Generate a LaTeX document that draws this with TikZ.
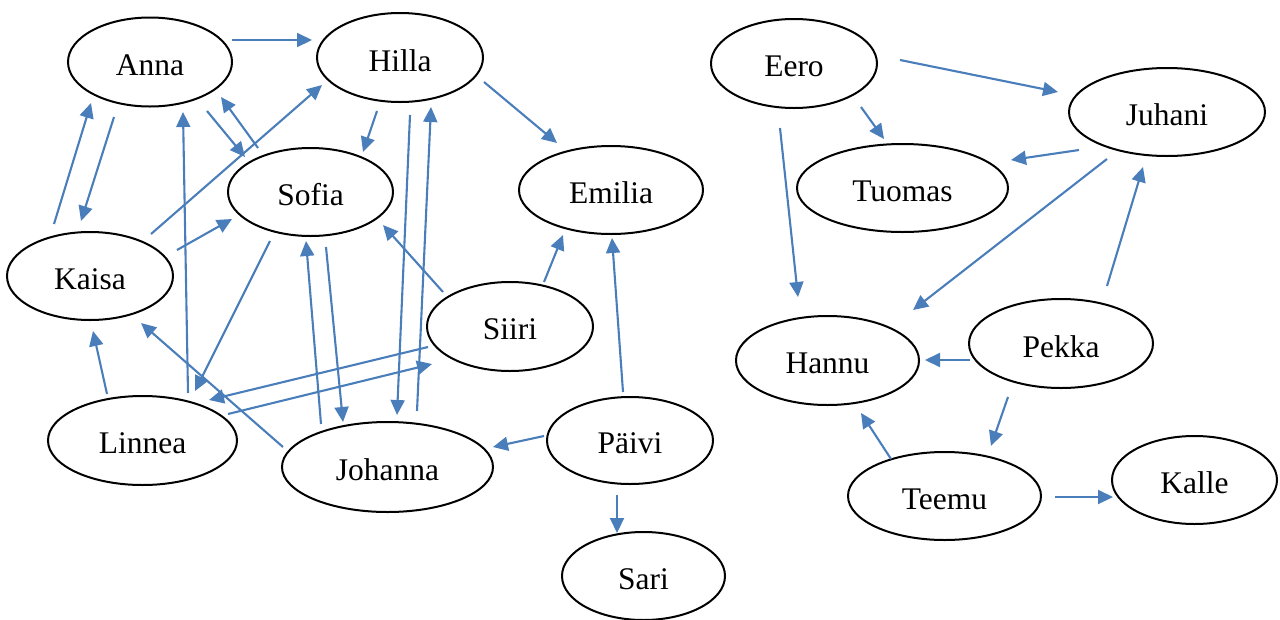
\documentclass[tikz,border=0pt]{standalone}
\usepackage{fontspec}
\setmainfont{Liberation Serif}
\usetikzlibrary{arrows.meta,shapes.geometric}
\definecolor{linkblue}{RGB}{74,126,187}
\tikzset{
  person/.style={ellipse, draw=black, line width=2pt, inner sep=0pt,
    font=\fontsize{31.5}{36}\selectfont},
  link/.style={draw=linkblue, line width=2.1pt,
    -{Triangle[length=15pt,width=14pt]}}
}
% \pnode{name}{x,y}{label}{width}{height}
\newcommand\pnode[5]{\node[person, minimum width=#4pt, minimum height=#5pt] (#1) at (#2) {\raisebox{-3pt}[\height][\depth]{#3}};}
% \lnk{from}{dx,dy}{to}{dx,dy}: arrow between points placed relative to two nodes
\newcommand\lnk[4]{\draw[link] ([shift={(#2)}]#1.center) -- ([shift={(#4)}]#3.center);}
\begin{document}
\begin{tikzpicture}[x=1pt,y=-1pt]
\useasboundingbox (0,0) rectangle (1280,619);

% left group
\pnode{anna}{150,62}{Anna}{164}{89}
\pnode{hilla}{400,57.5}{Hilla}{166}{89}
\pnode{sofia}{310.5,192}{Sofia}{165}{88}
\pnode{kaisa}{90,276}{Kaisa}{166}{88}
\pnode{linnea}{142.5,440.5}{Linnea}{189}{89}
\pnode{johanna}{387.5,467}{Johanna}{211}{90}
\pnode{emilia}{611,190}{Emilia}{184}{88}
\pnode{siiri}{510,326.5}{Siiri}{166}{89}
\pnode{paivi}{630,440.5}{Päivi}{166}{87}
\pnode{sari}{643.5,576}{Sari}{163}{88}

% right group
\pnode{eero}{794,63.5}{Eero}{166}{89}
\pnode{tuomas}{902.5,188}{Tuomas}{211}{88}
\pnode{juhani}{1167,112}{Juhani}{196}{88}
\pnode{hannu}{827.5,360.5}{Hannu}{183}{89}
\pnode{pekka}{1061,343.5}{Pekka}{184}{89}
\pnode{teemu}{944.5,496}{Teemu}{193}{88}
\pnode{kalle}{1194.5,480}{Kalle}{165}{88}

% connections of the left group
\lnk{anna}{82,-22}{hilla}{-88,-17.5}
\lnk{kaisa}{-36,-52}{anna}{-59,41}
\lnk{anna}{-36,55}{kaisa}{-9,-55}
\lnk{linnea}{45.5,-47.5}{anna}{33,50}
\lnk{anna}{57,49}{sofia}{-65.5,-35}
\lnk{sofia}{-52.5,-44}{anna}{71,35}
\lnk{kaisa}{61,-42}{hilla}{-78,27.5}
\lnk{hilla}{-23,53.5}{sofia}{52.5,-40}
\lnk{hilla}{10,57.5}{johanna}{9.5,-52}
\lnk{johanna}{29.5,-56}{hilla}{31,49.5}
\lnk{hilla}{84,24.5}{emilia}{-54,-47}
\lnk{kaisa}{87,-26}{sofia}{-78.5,27}
\lnk{sofia}{-40.5,49}{linnea}{52.5,-49.5}
\lnk{johanna}{-66.5,-43}{sofia}{-4.5,49}
\lnk{sofia}{15.5,55}{johanna}{-44.5,-45}
\lnk{siiri}{-67,-34.5}{sofia}{72.5,33}
\lnk{siiri}{-82,20.5}{linnea}{66.5,-40.5}
\lnk{linnea}{85.5,-26.5}{siiri}{-78,37.5}
\lnk{linnea}{-35.5,-46.5}{kaisa}{3,55}
\lnk{johanna}{-104.5,-20}{kaisa}{51,47}
\lnk{siiri}{34,-44.5}{emilia}{-48,45}
\lnk{paivi}{-7,-48.5}{emilia}{1,48}
\lnk{paivi}{-86,-4.5}{johanna}{105.5,-20}
\lnk{paivi}{-13,54.5}{sari}{-26.5,-43}

% connections of the right group
\lnk{eero}{106,-3.5}{juhani}{-109,-20}
\lnk{eero}{67,43.5}{tuomas}{-18.5,-49}
\lnk{eero}{-14,64.5}{hannu}{-29.5,-63.5}
\lnk{juhani}{-88,38}{tuomas}{108.5,-28}
\lnk{juhani}{-60,47}{hannu}{85.5,-50.5}
\lnk{pekka}{46,-57.5}{juhani}{-24,55}
\lnk{pekka}{-91,16.5}{hannu}{97.5,-0.5}
\lnk{teemu}{-53.5,-37}{hannu}{33.5,52.5}
\lnk{pekka}{-53,53.5}{teemu}{46.5,-50}
\lnk{teemu}{110.5,1}{kalle}{-81.5,17}
\end{tikzpicture}
\end{document}
